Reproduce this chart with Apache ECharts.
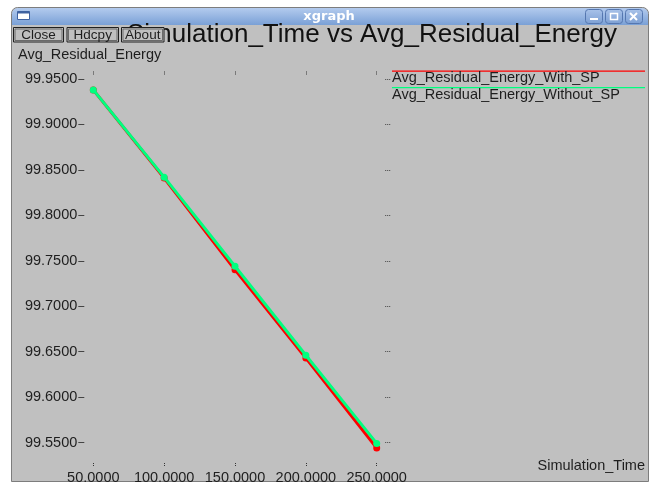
<!DOCTYPE html>
<html><head><meta charset="utf-8">
<script src="https://cdn.jsdelivr.net/npm/echarts@6/dist/echarts.min.js"></script>
<style>html,body{margin:0;padding:0;background:#fff}#c{width:657px;height:485px}</style>
</head><body><div id="c"></div>
<script>
// ---- data ----
const simTime = [50, 100, 150, 200, 250];
const energyWithSP = [99.938, 99.841, 99.740, 99.643, 99.544];
const energyWithoutSP = [99.938, 99.842, 99.744, 99.646, 99.549];
const xTickMin = 50, xTickMax = 250, xTickStep = 50;
const yTickMin = 99.55, yTickMax = 99.95, yTickStep = 0.05;
const seriesNames = ['Avg_Residual_Energy_With_SP', 'Avg_Residual_Energy_Without_SP'];
const seriesColors = ['#ff0000', '#00ff7f'];
const chartTitle = 'Simulation_Time vs Avg_Residual_Energy';
const xName = 'Simulation_Time';
const yName = 'Avg_Residual_Energy';
const windowTitle = 'xgraph';
const buttonLabels = ['Close', 'Hdcpy', 'About'];

const FONT = '"Liberation Sans", Arial, sans-serif';
const TXT = '#1e1e1e';
const BG = '#c0c0c0';

const chart = echarts.init(document.getElementById('c'), null, {renderer: 'canvas'});

const pairs = (xs, ys) => xs.map((x, i) => [x, ys[i]]);

// grid geometry
const G = {left: 93.3, top: 79, width: 283.4, height: 364.4};

const graphics = [];
// window body
graphics.push({type: 'rect', z: 0, shape: {x: 11.5, y: 7.5, width: 637, height: 474, r: [6, 6, 0, 0]},
  style: {fill: BG, stroke: '#7d7d7d', lineWidth: 1}, silent: true});
// title bar
graphics.push({type: 'rect', z: 1, shape: {x: 12, y: 8, width: 636, height: 17, r: [6, 6, 0, 0]},
  style: {fill: new echarts.graphic.LinearGradient(0, 0, 0, 1, [{offset: 0, color: '#b3cbee'}, {offset: 1, color: '#7aa0d6'}])}, silent: true});
graphics.push({type: 'text', z: 2, style: {text: windowTitle, x: 329, y: 16.5, align: 'center', verticalAlign: 'middle',
  font: 'bold 13px "DejaVu Sans", sans-serif', fill: '#ffffff'}, silent: true});
// window icon
graphics.push({type: 'rect', z: 2, shape: {x: 17.5, y: 11.5, width: 12, height: 8},
  style: {fill: '#ffffff', stroke: '#3f62a0', lineWidth: 1}, silent: true});
graphics.push({type: 'rect', z: 3, shape: {x: 17.5, y: 11.5, width: 12, height: 2},
  style: {fill: '#3f62a0'}, silent: true});
// window control buttons
[585, 605, 625].forEach((bx, i) => {
  graphics.push({type: 'rect', z: 2, shape: {x: bx + 0.5, y: 9.5, width: 17, height: 14, r: 3},
    style: {fill: new echarts.graphic.LinearGradient(0, 0, 0, 1, [{offset: 0, color: '#a9c3ea'}, {offset: 1, color: '#7c9fd3'}]), stroke: '#5577b0', lineWidth: 1}, silent: true});
  if (i === 0) graphics.push({type: 'rect', z: 3, shape: {x: bx + 5, y: 18, width: 8, height: 2}, style: {fill: '#ffffff'}, silent: true});
  if (i === 1) graphics.push({type: 'rect', z: 3, shape: {x: bx + 5.5, y: 13.5, width: 7, height: 6}, style: {fill: 'none', stroke: '#ffffff', lineWidth: 1.5}, silent: true});
  if (i === 2) {
    graphics.push({type: 'line', z: 3, shape: {x1: bx + 5, y1: 13, x2: bx + 12, y2: 20}, style: {stroke: '#ffffff', lineWidth: 2}, silent: true});
    graphics.push({type: 'line', z: 3, shape: {x1: bx + 12, y1: 13, x2: bx + 5, y2: 20}, style: {stroke: '#ffffff', lineWidth: 2}, silent: true});
  }
});
// xgraph buttons
const btnX = [13.5, 67, 121.5], btnW = [50, 51.5, 42.5];
buttonLabels.forEach((lab, i) => {
  graphics.push({type: 'rect', z: 50, shape: {x: btnX[i], y: 27.5, width: btnW[i], height: 14.5},
    style: {fill: BG, stroke: '#202020', lineWidth: 1}, silent: true});
  graphics.push({type: 'rect', z: 50, shape: {x: btnX[i] + 1.5, y: 29, width: btnW[i] - 3, height: 11.5},
    style: {fill: 'none', stroke: '#6a6a6a', lineWidth: 1}, silent: true});
  graphics.push({type: 'text', z: 51, style: {text: lab, x: btnX[i] + btnW[i] / 2, y: 35, align: 'center', verticalAlign: 'middle',
    font: '13.5px ' + FONT, fill: TXT}, silent: true});
});
// axis names
graphics.push({type: 'text', z: 5, style: {text: yName, x: 18, y: 54.5, align: 'left', verticalAlign: 'middle', font: '14.5px ' + FONT, fill: TXT}, silent: true});
graphics.push({type: 'text', z: 5, style: {text: xName, x: 645, y: 465.5, align: 'right', verticalAlign: 'middle', font: '14.5px ' + FONT, fill: TXT}, silent: true});
// legend (xgraph style: line above each name)
seriesNames.forEach((nm, i) => {
  const ly = 71 + i * 16.5;
  graphics.push({type: 'rect', z: 20, shape: {x: 392, y: ly - 0.5, width: 253, height: 1.2}, style: {fill: seriesColors[i]}, silent: true});
  graphics.push({type: 'text', z: 20, style: {text: nm, x: 392, y: ly + 7, align: 'left', verticalAlign: 'middle', font: '14.5px ' + FONT, fill: TXT}, silent: true});
});

const option = {
  backgroundColor: '#ffffff',
  animation: false,
  title: {
    text: chartTitle, left: 127, top: 22, padding: 0, z: 10,
    textStyle: {fontFamily: FONT, fontSize: 26, fontWeight: 'normal', color: '#111111'}
  },
  grid: {left: G.left, top: G.top, width: G.width, height: G.height, containLabel: false},
  xAxis: [
    {type: 'value', position: 'bottom', min: xTickMin, max: xTickMax, interval: xTickStep, offset: 20.5,
      axisLine: {show: false, onZero: false},
      axisTick: {show: true, length: 3, lineStyle: {color: '#333', width: 1, type: [1, 1]}},
      axisLabel: {margin: 7, fontFamily: FONT, fontSize: 14.5, color: TXT, formatter: v => v.toFixed(4)},
      splitLine: {show: false}},
    {type: 'value', position: 'top', min: xTickMin, max: xTickMax, interval: xTickStep, offset: 4.5,
      axisLine: {show: false, onZero: false},
      axisTick: {show: true, length: 3, lineStyle: {color: '#333', width: 1, type: [1, 1]}},
      axisLabel: {show: false}, splitLine: {show: false}}
  ],
  yAxis: [
    {type: 'value', position: 'left', min: yTickMin, max: yTickMax, interval: yTickStep, offset: 9,
      axisLine: {show: false, onZero: false},
      axisTick: {show: true, length: 6, lineStyle: {color: '#444', width: 1}},
      axisLabel: {margin: 7, fontFamily: FONT, fontSize: 14.5, color: TXT, formatter: v => v.toFixed(4)},
      splitLine: {show: false}},
    {type: 'value', position: 'right', min: yTickMin, max: yTickMax, interval: yTickStep, offset: 8.5,
      axisLine: {show: false, onZero: false},
      axisTick: {show: true, length: 5, lineStyle: {color: '#444', width: 1, type: [1, 1]}},
      axisLabel: {show: false}, splitLine: {show: false}}
  ],
  series: [
    {name: seriesNames[0], type: 'line', xAxisIndex: 0, yAxisIndex: 0, data: pairs(simTime, energyWithSP), clip: false,
      symbol: 'circle', symbolSize: 7, itemStyle: {color: seriesColors[0]}, lineStyle: {color: seriesColors[0], width: 3}, z: 3},
    {name: seriesNames[1], type: 'line', xAxisIndex: 0, yAxisIndex: 0, data: pairs(simTime, energyWithoutSP), clip: false,
      symbol: 'circle', symbolSize: 7, itemStyle: {color: seriesColors[1]}, lineStyle: {color: seriesColors[1], width: 3}, z: 4}
  ],
  graphic: {elements: graphics}
};
chart.setOption(option);
</script></body></html>
